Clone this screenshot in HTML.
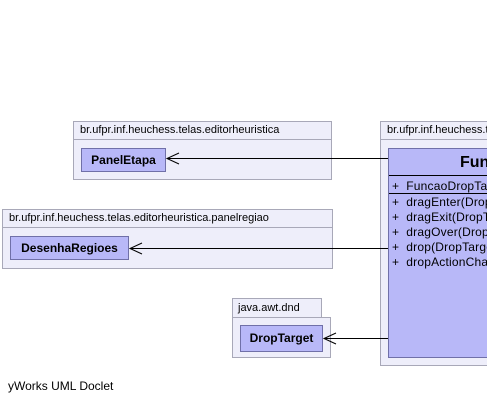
<!DOCTYPE html>
<html><head><style>
html,body{margin:0;width:487px;height:403px;overflow:hidden;}
body{background:#fff;font-family:"Liberation Sans",sans-serif;}
#w{position:relative;width:487px;height:403px;overflow:hidden;}
.a{position:absolute;box-sizing:border-box;}
.pk{background:#eeeefa;border:1px solid #a8a8b8;}
.hd{border-bottom:1px solid #a8a8b8;font-size:11px;color:#000;padding-left:6px;line-height:17px;white-space:nowrap;overflow:hidden;}
.cl{background:#b8b8f8;border:1px solid #7070a8;font-weight:bold;font-size:12px;text-align:center;}
.m{position:absolute;left:3px;font-size:12px;line-height:12px;white-space:nowrap;letter-spacing:0.2px;}
</style></head><body><div id="w">
<div class="a pk" style="left:73px;top:121px;width:259px;height:59px"><div class="hd">br.ufpr.inf.heuchess.telas.editorheuristica</div></div>
<div class="a cl" style="left:81px;top:148px;width:85px;height:24px;line-height:22px">PanelEtapa</div>

<div class="a pk" style="left:2px;top:209px;width:331px;height:60px"><div class="hd">br.ufpr.inf.heuchess.telas.editorheuristica.panelregiao</div></div>
<div class="a cl" style="left:10px;top:236px;width:119px;height:24px;line-height:22px">DesenhaRegioes</div>

<div class="a pk" style="left:232px;top:298px;width:90px;height:21px;border-bottom:none"><div style="font-size:11px;padding-left:5px;line-height:19px">java.awt.dnd</div></div>
<div class="a pk" style="left:232px;top:317px;width:99px;height:41px"></div>
<div class="a cl" style="left:240px;top:325px;width:83px;height:27px;line-height:25px">DropTarget</div>

<div class="a pk" style="left:380px;top:121px;width:107px;height:245px;border-right:none;overflow:hidden"><div class="hd">br.ufpr.inf.heuchess.telas.editorheuristica</div></div>
<div class="a cl" style="left:388px;top:148px;width:99px;height:210px;text-align:left;font-weight:normal;border-right:none;overflow:hidden">
<div style="position:absolute;left:71px;top:5px;font-weight:bold;font-size:16px;line-height:18px;white-space:nowrap">FuncaoDropTarget</div>
<div style="position:absolute;left:0;right:0;top:26px;border-top:1px solid #000"></div>
<div class="m" style="top:31px">+&nbsp; FuncaoDropTarget()</div>
<div style="position:absolute;left:0;right:0;top:44px;border-top:1px solid #000"></div>
<div class="m" style="top:47px">+&nbsp; dragEnter(DropTargetDragEvent)</div>
<div class="m" style="top:62px">+&nbsp; dragExit(DropTargetEvent)</div>
<div class="m" style="top:77px">+&nbsp; dragOver(DropTargetDragEvent)</div>
<div class="m" style="top:92px">+&nbsp; drop(DropTargetDropEvent)</div>
<div class="m" style="top:107px">+&nbsp; dropActionChanged(DropTargetDragEvent)</div>
</div>

<svg class="a" style="left:0;top:0" width="487" height="403">
<g stroke="#000" stroke-width="1" fill="none">
<line x1="167" y1="158.5" x2="388" y2="158.5"/><polyline points="179,153 167,158.5 179,164"/>
<line x1="130" y1="248.5" x2="388" y2="248.5"/><polyline points="142,243 130,248.5 142,254"/>
<line x1="324" y1="338.5" x2="388" y2="338.5"/><polyline points="336,333 324,338.5 336,344"/>
</g></svg>
<div class="a" style="left:8px;top:379px;font-size:12px">yWorks UML Doclet</div>
</div></body></html>
